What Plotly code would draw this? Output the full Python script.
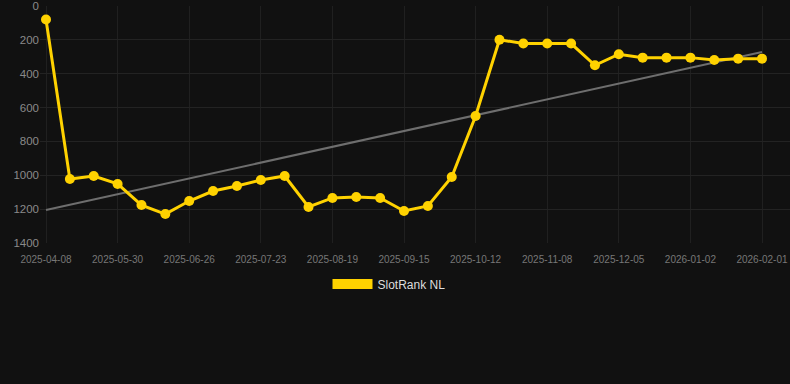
import numpy as np
import plotly.graph_objects as go

dates = ["2025-04-08", "2025-05-12", "2025-05-21", "2025-05-30", "2025-06-08", "2025-06-17",
         "2025-06-26", "2025-07-05", "2025-07-14", "2025-07-23", "2025-08-01", "2025-08-10",
         "2025-08-19", "2025-08-28", "2025-09-06", "2025-09-15", "2025-09-24", "2025-10-03",
         "2025-10-12", "2025-10-21", "2025-10-30", "2025-11-08", "2025-11-17", "2025-11-26",
         "2025-12-05", "2025-12-14", "2025-12-23", "2026-01-02", "2026-01-12", "2026-01-22",
         "2026-02-01"]
ranks = [80, 1022, 1004, 1051, 1176, 1229, 1152, 1093, 1063, 1028, 1004, 1187, 1134, 1128,
         1134, 1211, 1181, 1010, 650, 199, 222, 222, 222, 350, 285, 305, 305, 305, 319, 311, 311]
tick_dates = dates[::3]
series_name = "SlotRank NL"

idx = np.arange(len(ranks))
slope, intercept = np.polyfit(idx, ranks, 1)
trend = (slope * idx + intercept).tolist()

YELLOW = "#FFD200"
fig = go.Figure()
fig.add_trace(go.Scatter(x=dates, y=trend, mode="lines", line=dict(color="#6e6e6e", width=2),
                         showlegend=False, hoverinfo="skip"))
fig.add_trace(go.Scatter(x=dates, y=ranks, mode="lines+markers", line=dict(color=YELLOW, width=3),
                         marker=dict(color=YELLOW, size=10), showlegend=False, name=series_name))
fig.add_trace(go.Scatter(x=[None], y=[None], mode="lines", line=dict(color=YELLOW, width=12),
                         name=series_name, showlegend=True))

n = len(dates)
px_per = (762 - 46) / (n - 1)
left = 40
r0 = -(46 - left) / px_per
r1 = r0 + (790 - left) / px_per

fig.update_layout(
    width=790, height=384,
    margin=dict(l=left, r=0, t=6, b=141),
    paper_bgcolor="#111111", plot_bgcolor="#111111",
    font=dict(family="Liberation Sans, Arial, sans-serif"),
    showlegend=True,
    legend=dict(orientation="h", xref="container", yref="container", x=0.5 - 6 / 790, xanchor="center",
                y=1 - 284 / 384, yanchor="middle", itemwidth=40,
                font=dict(size=12, color="#dddddd"), bgcolor="rgba(0,0,0,0)"),
    xaxis=dict(type="category", range=[r0, r1], tickvals=tick_dates, ticktext=tick_dates,
               showgrid=True, gridcolor="#202020", gridwidth=1, zeroline=False, showline=False,
               tickfont=dict(size=10, color="#777777"), ticks="", ticklabelstandoff=9),
    yaxis=dict(range=[1400, 0], tickvals=[0, 200, 400, 600, 800, 1000, 1200, 1400],
               showgrid=True, gridcolor="#232323", gridwidth=1, zeroline=False, showline=False,
               tickfont=dict(size=11.5, color="#8a8a8a"), ticks=""),
)
fig.write_html("out.html")
